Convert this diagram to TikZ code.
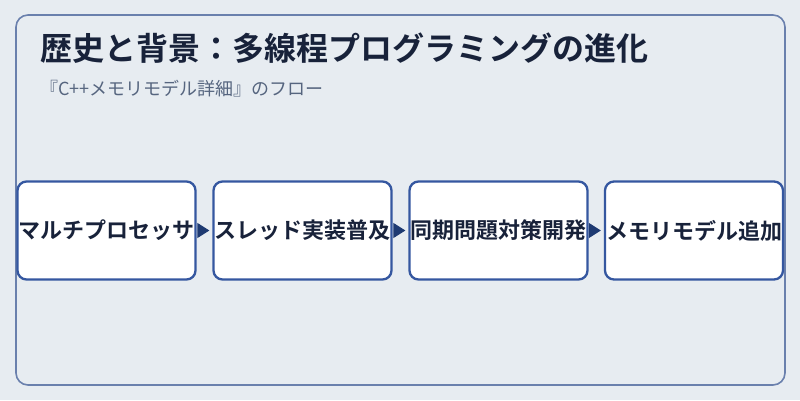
\documentclass[tikz,border=0pt]{standalone}
\usepackage{fontspec}
\newfontfamily\jpfont{Noto Sans CJK JP}
\newfontfamily\jpbold{Noto Sans CJK JP Bold}
\usetikzlibrary{arrows.meta}
\definecolor{bgc}{HTML}{E7ECF1}
\definecolor{framec}{HTML}{6A80AD}
\definecolor{boxc}{HTML}{3557A0}
\definecolor{titlec}{HTML}{18223A}
\definecolor{subc}{HTML}{56657F}
\definecolor{arrowc}{HTML}{1E3A72}
\begin{document}
\begin{tikzpicture}[x=1pt,y=1pt,
  stepbox/.style={draw=boxc,line width=2.3pt,fill=white,rounded corners=9pt,
    minimum width=178pt,minimum height=98pt,inner sep=0pt,
    font=\jpbold\fontsize{22}{25}\selectfont,text=titlec},
  flow/.style={draw=arrowc,fill=arrowc,line width=1pt,
    -{Triangle[length=12pt,width=15pt]},shorten <=2pt,shorten >=3pt}]
\useasboundingbox (0,0) rectangle (800,400);
\fill[bgc] (0,0) rectangle (800,400);
\draw[framec,line width=1.6pt,rounded corners=12pt] (16,15) rectangle (785,385);
\node[anchor=west,inner sep=0pt,text=titlec,font=\jpbold\fontsize{32}{36}\selectfont] (title) at (40,352) {歴史と背景：多線程プログラミングの進化};
\node[anchor=west,inner sep=0pt,text=subc,font=\jpfont\fontsize{18}{21}\selectfont] (sub) at (40,311) {『C++メモリモデル詳細』のフロー};
\node[stepbox] (b1) at (106.5,169.5) {マルチプロセッサ};
\node[stepbox] (b2) at (302.5,169.5) {スレッド実装普及};
\node[stepbox] (b3) at (498.5,169.5) {同期問題対策開発};
\node[stepbox] (b4) at (694,169.5) {メモリモデル追加};
\draw[flow] (b1.east) -- (b2.west);
\draw[flow] (b2.east) -- (b3.west);
\draw[flow] (b3.east) -- (b4.west);
\end{tikzpicture}
\end{document}
